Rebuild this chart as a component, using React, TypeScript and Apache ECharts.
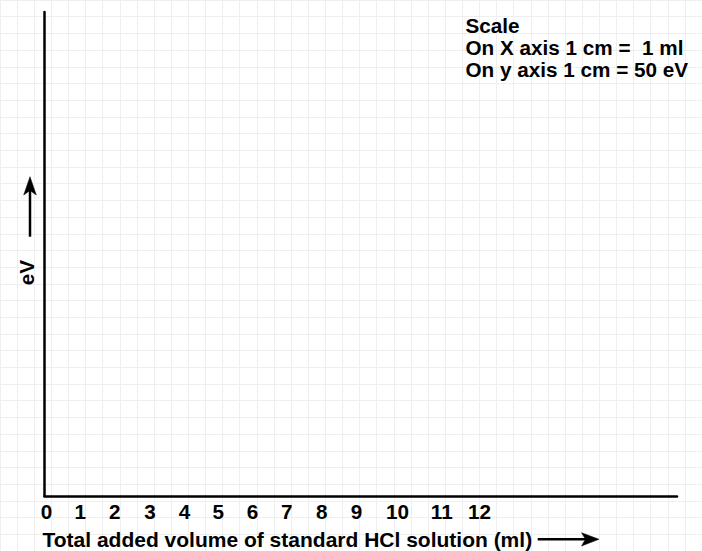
import React, { useEffect, useRef } from "react";
import * as echarts from "echarts";

// Tick labels on the x axis (ml)
const xTickLabels = ["0", "1", "2", "3", "4", "5", "6", "7", "8", "9", "10", "11", "12"];
// Where each tick label sits along the x axis (axis units)
const xTickPositions = [0.06, 1.03, 2.03, 3.04, 4.04, 5.01, 6.0, 6.99, 8.0, 9.0, 10.18, 11.46, 12.55];
// Scale note lines
const scaleLines = ["Scale", "On X axis 1 cm =  1 ml", "On y axis 1 cm = 50 eV"];
const xTitle = "Total added volume of standard HCl solution (ml)";
const yTitle = "eV";
// Empty series (blank graph to be filled)
const seriesValues: number[][] = [];

const FONT = "'Liberation Sans', Arial, Helvetica, sans-serif";

export default function App() {
  const ref = useRef<HTMLDivElement>(null);
  useEffect(() => {
    if (!ref.current) return;
    const chart = echarts.init(ref.current, undefined, { renderer: "svg" });
    const cell = 17.3333;
    const unit = cell * 2;
    const left = 44.5;
    const top = 12;
    const right = 25;
    const bottom = 55;
    const w = 702 - left - right;
    const h = 551 - top - bottom;
    const textStyle = { fontFamily: FONT, fontWeight: "bold" as const, fontSize: 20.7, fill: "#000" };
    const option: any = {
      animation: false,
      backgroundColor: "#fff",
      grid: [
        { left, top, width: w, height: h, containLabel: false },
        { left: -2, top: -9, width: cell * 41, height: cell * 33, containLabel: false, z: 0 },
      ],
      xAxis: [
        {
          type: "value",
          gridIndex: 0,
          min: 0,
          max: w / unit,
          axisLine: { show: true, onZero: false, lineStyle: { color: "#000", width: 2.5 } },
          axisTick: { show: false },
          splitLine: { show: false },
          axisLabel: {
            show: true,
            customValues: xTickPositions,
            formatter: (v: number) => {
              let best = 0;
              for (let i = 0; i < xTickPositions.length; i++) {
                if (Math.abs(xTickPositions[i] - v) < Math.abs(xTickPositions[best] - v)) best = i;
              }
              return xTickLabels[best];
            },
            color: "#000",
            fontFamily: FONT,
            fontWeight: "bold",
            fontSize: 20.7,
            margin: 5,
            showMinLabel: true,
            showMaxLabel: true,
          },
          z: 5,
        },
        {
          type: "value",
          gridIndex: 1,
          min: 0,
          max: 41,
          interval: 1,
          axisLine: { show: false },
          axisTick: { show: false },
          axisLabel: { show: false },
          splitLine: { show: true, lineStyle: { color: "#efefef", width: 1 } },
          z: 0,
        },
      ],
      yAxis: [
        {
          type: "value",
          gridIndex: 0,
          min: 0,
          max: h / unit,
          axisLine: { show: true, onZero: false, lineStyle: { color: "#000", width: 2.5 } },
          axisTick: { show: false },
          splitLine: { show: false },
          axisLabel: { show: false },
          z: 5,
        },
        {
          type: "value",
          gridIndex: 1,
          min: 0,
          max: 33,
          interval: 1,
          axisLine: { show: false },
          axisTick: { show: false },
          axisLabel: { show: false },
          splitLine: { show: true, lineStyle: { color: "#efefef", width: 1 } },
          z: 0,
        },
      ],
      series: [
        { type: "line", xAxisIndex: 0, yAxisIndex: 0, data: seriesValues, symbol: "none" },
      ],
      graphic: [
        ...scaleLines.map((t, i) => ({
          type: "text",
          x: 465.5,
          y: 25 + i * 22.2,
          z: 10,
          style: { ...textStyle, text: t, align: "left", verticalAlign: "middle" },
        })),
        {
          type: "text",
          x: 42.5,
          y: 539,
          z: 10,
          style: { ...textStyle, fontSize: 21, text: xTitle, align: "left", verticalAlign: "middle" },
        },
        {
          type: "text",
          x: 26.5,
          y: 272.5,
          rotation: Math.PI / 2,
          z: 10,
          style: { ...textStyle, text: yTitle, align: "center", verticalAlign: "middle" },
        },
        // x-direction arrow
        {
          type: "line",
          z: 10,
          shape: { x1: 537.7, y1: 539.3, x2: 587, y2: 539.3 },
          style: { stroke: "#000", lineWidth: 2.5 },
        },
        {
          type: "polygon",
          z: 10,
          shape: { points: [[599, 539.3], [581.5, 532.7], [585.5, 539.3], [581.5, 546]] },
          style: { fill: "#000", stroke: "#000", lineWidth: 0.5 },
        },
        // y-direction arrow
        {
          type: "line",
          z: 10,
          shape: { x1: 30, y1: 236.7, x2: 30, y2: 189 },
          style: { stroke: "#000", lineWidth: 2.5 },
        },
        {
          type: "polygon",
          z: 10,
          shape: { points: [[30, 176.7], [23.7, 195], [30, 190.5], [36.3, 195]] },
          style: { fill: "#000", stroke: "#000", lineWidth: 0.5 },
        },
      ],
    };
    chart.setOption(option);
    return () => chart.dispose();
  }, []);
  return (
    <div
      ref={ref}
      style={{ position: "fixed", left: 0, top: 0, width: 702, height: 551 }}
    />
  );
}
